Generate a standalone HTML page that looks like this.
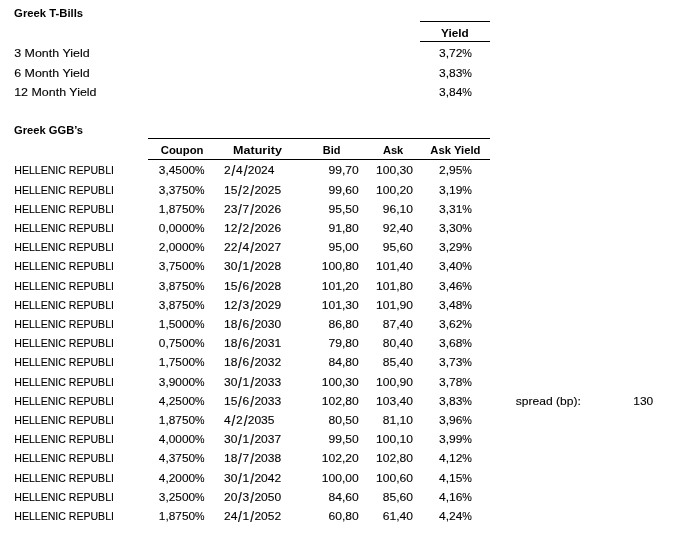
<!DOCTYPE html><html><head><meta charset="utf-8"><title>Greek T-Bills</title><style>
html,body{margin:0;padding:0;background:#fff;}
body{width:690px;height:546px;position:relative;overflow:hidden;font-family:"Liberation Sans",sans-serif;font-size:10.8px;color:#000;filter:grayscale(1);}
.t{position:absolute;white-space:pre;line-height:10.8px;height:10.8px;width:240px;}
.t b{display:inline-block;font-weight:inherit;-webkit-text-stroke:0.1px #000;}
.l b{transform-origin:0 50%;}
.r b{transform-origin:100% 50%;}
.c b{transform-origin:50% 50%;}
.r{text-align:right;}
.c{text-align:center;}
.B{font-weight:700;}
.B b{-webkit-text-stroke:0;}
i{font-style:normal;display:inline-block;}
i.s{width:0.429em;text-align:center;transform:translateY(0.6px) scale(1.15,1.29);}
i.p{width:0.8em;transform:scaleX(0.9);transform-origin:0 50%;}
.ln{position:absolute;height:1px;background:#000;}
</style></head><body>
<div class="ln" style="left:420px;top:21px;width:70px"></div>
<div class="ln" style="left:420px;top:41px;width:70px"></div>
<div class="ln" style="left:148px;top:138px;width:342px"></div>
<div class="ln" style="left:148px;top:159px;width:342px"></div>
<div class="t l B" style="left:14px;top:8px"><b style="transform:translate(0.10px,0.00px) scaleX(1.0456)">Greek T-Bills</b></div>
<div class="t c B" style="left:335px;top:28px"><b style="transform:translate(0.25px,-0.25px) scaleX(1.0900)">Yield</b></div>
<div class="t l" style="left:14px;top:48px"><b style="transform:translate(0.20px,0.00px) scaleX(1.1522)">3 Month Yield</b></div>
<div class="t c" style="left:335px;top:48px"><b style="transform:translate(0.60px,0.00px) scaleX(1.1111)">3,72<i class="p">%</i></b></div>
<div class="t l" style="left:14px;top:68px"><b style="transform:translate(0.20px,0.00px) scaleX(1.1522)">6 Month Yield</b></div>
<div class="t c" style="left:335px;top:68px"><b style="transform:translate(0.60px,0.00px) scaleX(1.1111)">3,83<i class="p">%</i></b></div>
<div class="t l" style="left:14px;top:87px"><b style="transform:translate(0.20px,0.00px) scaleX(1.1522)">12 Month Yield</b></div>
<div class="t c" style="left:335px;top:87px"><b style="transform:translate(0.60px,0.00px) scaleX(1.1111)">3,84<i class="p">%</i></b></div>
<div class="t l B" style="left:14px;top:125px"><b style="transform:translate(0.10px,0.00px) scaleX(1.0322)">Greek GGB’s</b></div>
<div class="t c B" style="left:61px;top:145px"><b style="transform:translate(0.70px,0.00px) scaleX(1.0489)">Coupon</b></div>
<div class="t c B" style="left:137px;top:145px"><b style="transform:translate(0.50px,0.00px) scaleX(1.1611)">Maturity</b></div>
<div class="t c B" style="left:212px;top:145px"><b style="transform:translate(0.00px,0.00px) scaleX(1.0156)">Bid</b></div>
<div class="t c B" style="left:273px;top:145px"><b style="transform:translate(0.20px,0.00px) scaleX(1.0300)">Ask</b></div>
<div class="t c B" style="left:335px;top:145px"><b style="transform:translate(0.40px,0.00px) scaleX(1.0444)">Ask Yield</b></div>
<div class="t l" style="left:14px;top:165px"><b style="transform:translate(0.30px,0.00px) scaleX(0.9767)">HELLENIC REPUBLI</b></div>
<div class="t c" style="left:61px;top:165px"><b style="transform:translate(0.90px,0.00px) scaleX(1.1000)">3,4500<i class="p">%</i></b></div>
<div class="t l" style="left:224px;top:165px"><b style="transform:translate(0.10px,0.00px) scaleX(1.1111)">2<i class="s">/</i>4<i class="s">/</i>2024</b></div>
<div class="t r" style="left:118px;top:165px"><b style="transform:translate(0.70px,0.00px) scaleX(1.1200)">99,70</b></div>
<div class="t r" style="left:173px;top:165px"><b style="transform:translate(0.00px,0.00px) scaleX(1.1200)">100,30</b></div>
<div class="t c" style="left:335px;top:165px"><b style="transform:translate(0.60px,0.00px) scaleX(1.1111)">2,95<i class="p">%</i></b></div>
<div class="t l" style="left:14px;top:185px"><b style="transform:translate(0.30px,0.00px) scaleX(0.9767)">HELLENIC REPUBLI</b></div>
<div class="t c" style="left:61px;top:185px"><b style="transform:translate(0.90px,0.00px) scaleX(1.1000)">3,3750<i class="p">%</i></b></div>
<div class="t l" style="left:224px;top:185px"><b style="transform:translate(0.10px,0.00px) scaleX(1.1111)">15<i class="s">/</i>2<i class="s">/</i>2025</b></div>
<div class="t r" style="left:118px;top:185px"><b style="transform:translate(0.70px,0.00px) scaleX(1.1200)">99,60</b></div>
<div class="t r" style="left:173px;top:185px"><b style="transform:translate(0.00px,0.00px) scaleX(1.1200)">100,20</b></div>
<div class="t c" style="left:335px;top:185px"><b style="transform:translate(0.60px,0.00px) scaleX(1.1111)">3,19<i class="p">%</i></b></div>
<div class="t l" style="left:14px;top:204px"><b style="transform:translate(0.30px,0.00px) scaleX(0.9767)">HELLENIC REPUBLI</b></div>
<div class="t c" style="left:61px;top:204px"><b style="transform:translate(0.90px,0.00px) scaleX(1.1000)">1,8750<i class="p">%</i></b></div>
<div class="t l" style="left:224px;top:204px"><b style="transform:translate(0.10px,0.00px) scaleX(1.1111)">23<i class="s">/</i>7<i class="s">/</i>2026</b></div>
<div class="t r" style="left:118px;top:204px"><b style="transform:translate(0.70px,0.00px) scaleX(1.1200)">95,50</b></div>
<div class="t r" style="left:173px;top:204px"><b style="transform:translate(0.00px,0.00px) scaleX(1.1200)">96,10</b></div>
<div class="t c" style="left:335px;top:204px"><b style="transform:translate(0.60px,0.00px) scaleX(1.1111)">3,31<i class="p">%</i></b></div>
<div class="t l" style="left:14px;top:223px"><b style="transform:translate(0.30px,0.00px) scaleX(0.9767)">HELLENIC REPUBLI</b></div>
<div class="t c" style="left:61px;top:223px"><b style="transform:translate(0.90px,0.00px) scaleX(1.1000)">0,0000<i class="p">%</i></b></div>
<div class="t l" style="left:224px;top:223px"><b style="transform:translate(0.10px,0.00px) scaleX(1.1111)">12<i class="s">/</i>2<i class="s">/</i>2026</b></div>
<div class="t r" style="left:118px;top:223px"><b style="transform:translate(0.70px,0.00px) scaleX(1.1200)">91,80</b></div>
<div class="t r" style="left:173px;top:223px"><b style="transform:translate(0.00px,0.00px) scaleX(1.1200)">92,40</b></div>
<div class="t c" style="left:335px;top:223px"><b style="transform:translate(0.60px,0.00px) scaleX(1.1111)">3,30<i class="p">%</i></b></div>
<div class="t l" style="left:14px;top:242px"><b style="transform:translate(0.30px,0.00px) scaleX(0.9767)">HELLENIC REPUBLI</b></div>
<div class="t c" style="left:61px;top:242px"><b style="transform:translate(0.90px,0.00px) scaleX(1.1000)">2,0000<i class="p">%</i></b></div>
<div class="t l" style="left:224px;top:242px"><b style="transform:translate(0.10px,0.00px) scaleX(1.1111)">22<i class="s">/</i>4<i class="s">/</i>2027</b></div>
<div class="t r" style="left:118px;top:242px"><b style="transform:translate(0.70px,0.00px) scaleX(1.1200)">95,00</b></div>
<div class="t r" style="left:173px;top:242px"><b style="transform:translate(0.00px,0.00px) scaleX(1.1200)">95,60</b></div>
<div class="t c" style="left:335px;top:242px"><b style="transform:translate(0.60px,0.00px) scaleX(1.1111)">3,29<i class="p">%</i></b></div>
<div class="t l" style="left:14px;top:261px"><b style="transform:translate(0.30px,0.00px) scaleX(0.9767)">HELLENIC REPUBLI</b></div>
<div class="t c" style="left:61px;top:261px"><b style="transform:translate(0.90px,0.00px) scaleX(1.1000)">3,7500<i class="p">%</i></b></div>
<div class="t l" style="left:224px;top:261px"><b style="transform:translate(0.10px,0.00px) scaleX(1.1111)">30<i class="s">/</i>1<i class="s">/</i>2028</b></div>
<div class="t r" style="left:118px;top:261px"><b style="transform:translate(0.70px,0.00px) scaleX(1.1200)">100,80</b></div>
<div class="t r" style="left:173px;top:261px"><b style="transform:translate(0.00px,0.00px) scaleX(1.1200)">101,40</b></div>
<div class="t c" style="left:335px;top:261px"><b style="transform:translate(0.60px,0.00px) scaleX(1.1111)">3,40<i class="p">%</i></b></div>
<div class="t l" style="left:14px;top:281px"><b style="transform:translate(0.30px,0.00px) scaleX(0.9767)">HELLENIC REPUBLI</b></div>
<div class="t c" style="left:61px;top:281px"><b style="transform:translate(0.90px,0.00px) scaleX(1.1000)">3,8750<i class="p">%</i></b></div>
<div class="t l" style="left:224px;top:281px"><b style="transform:translate(0.10px,0.00px) scaleX(1.1111)">15<i class="s">/</i>6<i class="s">/</i>2028</b></div>
<div class="t r" style="left:118px;top:281px"><b style="transform:translate(0.70px,0.00px) scaleX(1.1200)">101,20</b></div>
<div class="t r" style="left:173px;top:281px"><b style="transform:translate(0.00px,0.00px) scaleX(1.1200)">101,80</b></div>
<div class="t c" style="left:335px;top:281px"><b style="transform:translate(0.60px,0.00px) scaleX(1.1111)">3,46<i class="p">%</i></b></div>
<div class="t l" style="left:14px;top:300px"><b style="transform:translate(0.30px,0.00px) scaleX(0.9767)">HELLENIC REPUBLI</b></div>
<div class="t c" style="left:61px;top:300px"><b style="transform:translate(0.90px,0.00px) scaleX(1.1000)">3,8750<i class="p">%</i></b></div>
<div class="t l" style="left:224px;top:300px"><b style="transform:translate(0.10px,0.00px) scaleX(1.1111)">12<i class="s">/</i>3<i class="s">/</i>2029</b></div>
<div class="t r" style="left:118px;top:300px"><b style="transform:translate(0.70px,0.00px) scaleX(1.1200)">101,30</b></div>
<div class="t r" style="left:173px;top:300px"><b style="transform:translate(0.00px,0.00px) scaleX(1.1200)">101,90</b></div>
<div class="t c" style="left:335px;top:300px"><b style="transform:translate(0.60px,0.00px) scaleX(1.1111)">3,48<i class="p">%</i></b></div>
<div class="t l" style="left:14px;top:319px"><b style="transform:translate(0.30px,0.00px) scaleX(0.9767)">HELLENIC REPUBLI</b></div>
<div class="t c" style="left:61px;top:319px"><b style="transform:translate(0.90px,0.00px) scaleX(1.1000)">1,5000<i class="p">%</i></b></div>
<div class="t l" style="left:224px;top:319px"><b style="transform:translate(0.10px,0.00px) scaleX(1.1111)">18<i class="s">/</i>6<i class="s">/</i>2030</b></div>
<div class="t r" style="left:118px;top:319px"><b style="transform:translate(0.70px,0.00px) scaleX(1.1200)">86,80</b></div>
<div class="t r" style="left:173px;top:319px"><b style="transform:translate(0.00px,0.00px) scaleX(1.1200)">87,40</b></div>
<div class="t c" style="left:335px;top:319px"><b style="transform:translate(0.60px,0.00px) scaleX(1.1111)">3,62<i class="p">%</i></b></div>
<div class="t l" style="left:14px;top:338px"><b style="transform:translate(0.30px,0.00px) scaleX(0.9767)">HELLENIC REPUBLI</b></div>
<div class="t c" style="left:61px;top:338px"><b style="transform:translate(0.90px,0.00px) scaleX(1.1000)">0,7500<i class="p">%</i></b></div>
<div class="t l" style="left:224px;top:338px"><b style="transform:translate(0.10px,0.00px) scaleX(1.1111)">18<i class="s">/</i>6<i class="s">/</i>2031</b></div>
<div class="t r" style="left:118px;top:338px"><b style="transform:translate(0.70px,0.00px) scaleX(1.1200)">79,80</b></div>
<div class="t r" style="left:173px;top:338px"><b style="transform:translate(0.00px,0.00px) scaleX(1.1200)">80,40</b></div>
<div class="t c" style="left:335px;top:338px"><b style="transform:translate(0.60px,0.00px) scaleX(1.1111)">3,68<i class="p">%</i></b></div>
<div class="t l" style="left:14px;top:357px"><b style="transform:translate(0.30px,0.00px) scaleX(0.9767)">HELLENIC REPUBLI</b></div>
<div class="t c" style="left:61px;top:357px"><b style="transform:translate(0.90px,0.00px) scaleX(1.1000)">1,7500<i class="p">%</i></b></div>
<div class="t l" style="left:224px;top:357px"><b style="transform:translate(0.10px,0.00px) scaleX(1.1111)">18<i class="s">/</i>6<i class="s">/</i>2032</b></div>
<div class="t r" style="left:118px;top:357px"><b style="transform:translate(0.70px,0.00px) scaleX(1.1200)">84,80</b></div>
<div class="t r" style="left:173px;top:357px"><b style="transform:translate(0.00px,0.00px) scaleX(1.1200)">85,40</b></div>
<div class="t c" style="left:335px;top:357px"><b style="transform:translate(0.60px,0.00px) scaleX(1.1111)">3,73<i class="p">%</i></b></div>
<div class="t l" style="left:14px;top:377px"><b style="transform:translate(0.30px,0.00px) scaleX(0.9767)">HELLENIC REPUBLI</b></div>
<div class="t c" style="left:61px;top:377px"><b style="transform:translate(0.90px,0.00px) scaleX(1.1000)">3,9000<i class="p">%</i></b></div>
<div class="t l" style="left:224px;top:377px"><b style="transform:translate(0.10px,0.00px) scaleX(1.1111)">30<i class="s">/</i>1<i class="s">/</i>2033</b></div>
<div class="t r" style="left:118px;top:377px"><b style="transform:translate(0.70px,0.00px) scaleX(1.1200)">100,30</b></div>
<div class="t r" style="left:173px;top:377px"><b style="transform:translate(0.00px,0.00px) scaleX(1.1200)">100,90</b></div>
<div class="t c" style="left:335px;top:377px"><b style="transform:translate(0.60px,0.00px) scaleX(1.1111)">3,78<i class="p">%</i></b></div>
<div class="t l" style="left:14px;top:396px"><b style="transform:translate(0.30px,0.00px) scaleX(0.9767)">HELLENIC REPUBLI</b></div>
<div class="t c" style="left:61px;top:396px"><b style="transform:translate(0.90px,0.00px) scaleX(1.1000)">4,2500<i class="p">%</i></b></div>
<div class="t l" style="left:224px;top:396px"><b style="transform:translate(0.10px,0.00px) scaleX(1.1111)">15<i class="s">/</i>6<i class="s">/</i>2033</b></div>
<div class="t r" style="left:118px;top:396px"><b style="transform:translate(0.70px,0.00px) scaleX(1.1200)">102,80</b></div>
<div class="t r" style="left:173px;top:396px"><b style="transform:translate(0.00px,0.00px) scaleX(1.1200)">103,40</b></div>
<div class="t c" style="left:335px;top:396px"><b style="transform:translate(0.60px,0.00px) scaleX(1.1111)">3,83<i class="p">%</i></b></div>
<div class="t l" style="left:14px;top:415px"><b style="transform:translate(0.30px,0.00px) scaleX(0.9767)">HELLENIC REPUBLI</b></div>
<div class="t c" style="left:61px;top:415px"><b style="transform:translate(0.90px,0.00px) scaleX(1.1000)">1,8750<i class="p">%</i></b></div>
<div class="t l" style="left:224px;top:415px"><b style="transform:translate(0.10px,0.00px) scaleX(1.1111)">4<i class="s">/</i>2<i class="s">/</i>2035</b></div>
<div class="t r" style="left:118px;top:415px"><b style="transform:translate(0.70px,0.00px) scaleX(1.1200)">80,50</b></div>
<div class="t r" style="left:173px;top:415px"><b style="transform:translate(0.00px,0.00px) scaleX(1.1200)">81,10</b></div>
<div class="t c" style="left:335px;top:415px"><b style="transform:translate(0.60px,0.00px) scaleX(1.1111)">3,96<i class="p">%</i></b></div>
<div class="t l" style="left:14px;top:434px"><b style="transform:translate(0.30px,0.00px) scaleX(0.9767)">HELLENIC REPUBLI</b></div>
<div class="t c" style="left:61px;top:434px"><b style="transform:translate(0.90px,0.00px) scaleX(1.1000)">4,0000<i class="p">%</i></b></div>
<div class="t l" style="left:224px;top:434px"><b style="transform:translate(0.10px,0.00px) scaleX(1.1111)">30<i class="s">/</i>1<i class="s">/</i>2037</b></div>
<div class="t r" style="left:118px;top:434px"><b style="transform:translate(0.70px,0.00px) scaleX(1.1200)">99,50</b></div>
<div class="t r" style="left:173px;top:434px"><b style="transform:translate(0.00px,0.00px) scaleX(1.1200)">100,10</b></div>
<div class="t c" style="left:335px;top:434px"><b style="transform:translate(0.60px,0.00px) scaleX(1.1111)">3,99<i class="p">%</i></b></div>
<div class="t l" style="left:14px;top:453px"><b style="transform:translate(0.30px,0.00px) scaleX(0.9767)">HELLENIC REPUBLI</b></div>
<div class="t c" style="left:61px;top:453px"><b style="transform:translate(0.90px,0.00px) scaleX(1.1000)">4,3750<i class="p">%</i></b></div>
<div class="t l" style="left:224px;top:453px"><b style="transform:translate(0.10px,0.00px) scaleX(1.1111)">18<i class="s">/</i>7<i class="s">/</i>2038</b></div>
<div class="t r" style="left:118px;top:453px"><b style="transform:translate(0.70px,0.00px) scaleX(1.1200)">102,20</b></div>
<div class="t r" style="left:173px;top:453px"><b style="transform:translate(0.00px,0.00px) scaleX(1.1200)">102,80</b></div>
<div class="t c" style="left:335px;top:453px"><b style="transform:translate(0.60px,0.00px) scaleX(1.1111)">4,12<i class="p">%</i></b></div>
<div class="t l" style="left:14px;top:473px"><b style="transform:translate(0.30px,0.00px) scaleX(0.9767)">HELLENIC REPUBLI</b></div>
<div class="t c" style="left:61px;top:473px"><b style="transform:translate(0.90px,0.00px) scaleX(1.1000)">4,2000<i class="p">%</i></b></div>
<div class="t l" style="left:224px;top:473px"><b style="transform:translate(0.10px,0.00px) scaleX(1.1111)">30<i class="s">/</i>1<i class="s">/</i>2042</b></div>
<div class="t r" style="left:118px;top:473px"><b style="transform:translate(0.70px,0.00px) scaleX(1.1200)">100,00</b></div>
<div class="t r" style="left:173px;top:473px"><b style="transform:translate(0.00px,0.00px) scaleX(1.1200)">100,60</b></div>
<div class="t c" style="left:335px;top:473px"><b style="transform:translate(0.60px,0.00px) scaleX(1.1111)">4,15<i class="p">%</i></b></div>
<div class="t l" style="left:14px;top:492px"><b style="transform:translate(0.30px,0.00px) scaleX(0.9767)">HELLENIC REPUBLI</b></div>
<div class="t c" style="left:61px;top:492px"><b style="transform:translate(0.90px,0.00px) scaleX(1.1000)">3,2500<i class="p">%</i></b></div>
<div class="t l" style="left:224px;top:492px"><b style="transform:translate(0.10px,0.00px) scaleX(1.1111)">20<i class="s">/</i>3<i class="s">/</i>2050</b></div>
<div class="t r" style="left:118px;top:492px"><b style="transform:translate(0.70px,0.00px) scaleX(1.1200)">84,60</b></div>
<div class="t r" style="left:173px;top:492px"><b style="transform:translate(0.00px,0.00px) scaleX(1.1200)">85,60</b></div>
<div class="t c" style="left:335px;top:492px"><b style="transform:translate(0.60px,0.00px) scaleX(1.1111)">4,16<i class="p">%</i></b></div>
<div class="t l" style="left:14px;top:511px"><b style="transform:translate(0.30px,0.00px) scaleX(0.9767)">HELLENIC REPUBLI</b></div>
<div class="t c" style="left:61px;top:511px"><b style="transform:translate(0.90px,0.00px) scaleX(1.1000)">1,8750<i class="p">%</i></b></div>
<div class="t l" style="left:224px;top:511px"><b style="transform:translate(0.10px,0.00px) scaleX(1.1111)">24<i class="s">/</i>1<i class="s">/</i>2052</b></div>
<div class="t r" style="left:118px;top:511px"><b style="transform:translate(0.70px,0.00px) scaleX(1.1200)">60,80</b></div>
<div class="t r" style="left:173px;top:511px"><b style="transform:translate(0.00px,0.00px) scaleX(1.1200)">61,40</b></div>
<div class="t c" style="left:335px;top:511px"><b style="transform:translate(0.60px,0.00px) scaleX(1.1111)">4,24<i class="p">%</i></b></div>
<div class="t l" style="left:515px;top:396px"><b style="transform:translate(0.70px,0.00px) scaleX(1.1178)">spread (bp):</b></div>
<div class="t r" style="left:413px;top:396px"><b style="transform:translate(0.15px,0.00px) scaleX(1.1056)">130</b></div>
</body></html>
